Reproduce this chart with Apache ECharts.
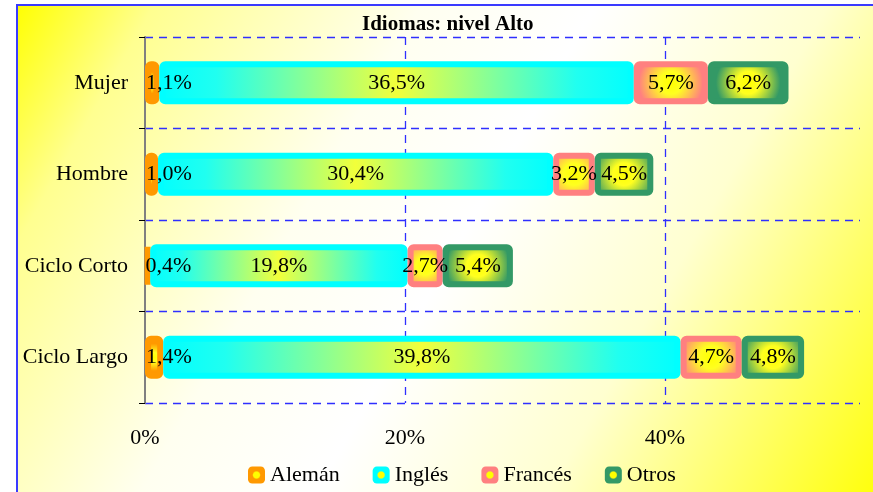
<!DOCTYPE html>
<html>
<head>
<meta charset="utf-8">
<script src="https://cdn.jsdelivr.net/npm/echarts@6/dist/echarts.min.js"></script>
<style>
  html, body { margin: 0; padding: 0; background: #fff; }
  #chart { width: 873px; height: 492px; }
</style>
</head>
<body>
<div id="chart"></div>
<script>
// datos
var categorias = ['Mujer', 'Hombre', 'Ciclo Corto', 'Ciclo Largo'];
var aleman  = [1.1, 1.0, 0.4, 1.4];
var ingles  = [36.5, 30.4, 19.8, 39.8];
var frances = [5.7, 3.2, 2.7, 4.7];
var otros   = [6.2, 4.5, 5.4, 4.8];

var FONT = 'Liberation Serif';
var AZUL = '#2f2fff';

function etiqueta(p) {
  return p.value.toFixed(1).replace('.', ',') + '%';
}

function radial(c) {
  return new echarts.graphic.RadialGradient(0.5, 0.5, 0.75, [
    { offset: 0, color: '#ffff00' },
    { offset: 0.35, color: '#ffff20' },
    { offset: 1, color: c }
  ]);
}

// icono de leyenda: borde del color y centro amarillo
function icono(c) {
  return new echarts.graphic.RadialGradient(0.5, 0.5, 0.5, [
    { offset: 0, color: '#ffff00' },
    { offset: 0.35, color: '#ffff00' },
    { offset: 0.5, color: c },
    { offset: 1, color: c }
  ]);
}

function serie(nombre, datos, color, relleno, posicion) {
  return {
    name: nombre,
    type: 'bar',
    stack: 'total',
    barWidth: 43,
    data: datos,
    itemStyle: {
      color: relleno,
      borderColor: color,
      borderWidth: 6,
      borderRadius: 3
    },
    label: {
      show: true,
      position: posicion,
      distance: 1,
      formatter: etiqueta,
      color: '#000',
      fontFamily: FONT,
      fontSize: 22
    }
  };
}

var chart = echarts.init(document.getElementById('chart'));

var series = [
  serie('Alemán', aleman, '#ff9900', radial('#ff9900'), 'insideLeft'),
  serie('Inglés', ingles, '#00ffff', new echarts.graphic.LinearGradient(0, 0, 1, 0, [
    { offset: 0, color: '#00ffff' },
    { offset: 0.12, color: '#20fff0' },
    { offset: 0.5, color: '#f2ff3a' },
    { offset: 0.88, color: '#20fff0' },
    { offset: 1, color: '#00ffff' }
  ]), 'inside'),
  serie('Francés', frances, '#ff8080', radial('#ff8080'), 'inside'),
  serie('Otros', otros, '#339966', radial('#339966'), 'inside')
];

var colores = { 'Alemán': '#ff9900', 'Inglés': '#00ffff', 'Francés': '#ff8080', 'Otros': '#339966' };

chart.setOption({
  backgroundColor: '#fff',
  animation: false,
  graphic: [{
    type: 'rect',
    z: -10,
    silent: true,
    shape: { x: 17, y: 5, width: 870, height: 500 },
    style: {
      fill: new echarts.graphic.LinearGradient(0, 0, 1, 1, [
        { offset: 0, color: '#ffff00' },
        { offset: 0.12, color: '#ffff90' },
        { offset: 0.35, color: '#fffff0' },
        { offset: 0.5, color: '#ffffff' },
        { offset: 0.7, color: '#ffffd0' },
        { offset: 1, color: '#ffff00' }
      ]),
      stroke: '#3a3aff',
      lineWidth: 2
    }
  }],
  title: {
    text: 'Idiomas: nivel Alto',
    left: 362,
    top: 14,
    padding: 0,
    textStyle: { fontFamily: FONT, fontSize: 21, fontWeight: 'bold', color: '#000' }
  },
  legend: {
    top: 459,
    left: 243,
    itemWidth: 17,
    itemHeight: 17,
    itemGap: 33,
    icon: 'roundRect',
    textStyle: { fontFamily: FONT, fontSize: 22, color: '#000' },
    data: ['Alemán', 'Inglés', 'Francés', 'Otros'].map(function (n) {
      return { name: n, itemStyle: { color: icono(colores[n]), borderWidth: 0 } };
    })
  },
  grid: { left: 145, top: 37, right: 13, bottom: 89, outerBoundsMode: 'none' },
  xAxis: {
    type: 'value',
    min: 0,
    max: 55,
    interval: 20,
    axisLine: { show: false },
    axisTick: { show: false },
    splitLine: {
      show: true,
      lineStyle: { color: ['rgba(0,0,0,0)', AZUL, AZUL, 'rgba(0,0,0,0)'], type: [8, 6], width: 1.3 }
    },
    axisLabel: {
      margin: 24,
      fontFamily: FONT,
      fontSize: 22,
      color: '#000',
      showMaxLabel: false,
      formatter: function (v) { return v % 20 === 0 ? v + '%' : ''; }
    }
  },
  yAxis: {
    type: 'category',
    inverse: true,
    data: categorias,
    axisLine: { show: true, lineStyle: { color: '#808080', width: 2 } },
    axisTick: { show: true, length: 6, lineStyle: { color: '#000' } },
    splitLine: { show: true, lineStyle: { color: AZUL, type: [8, 6], width: 1.3 } },
    axisLabel: { margin: 17, fontFamily: FONT, fontSize: 22, color: '#000' }
  },
  series: series
});
</script>
</body>
</html>
